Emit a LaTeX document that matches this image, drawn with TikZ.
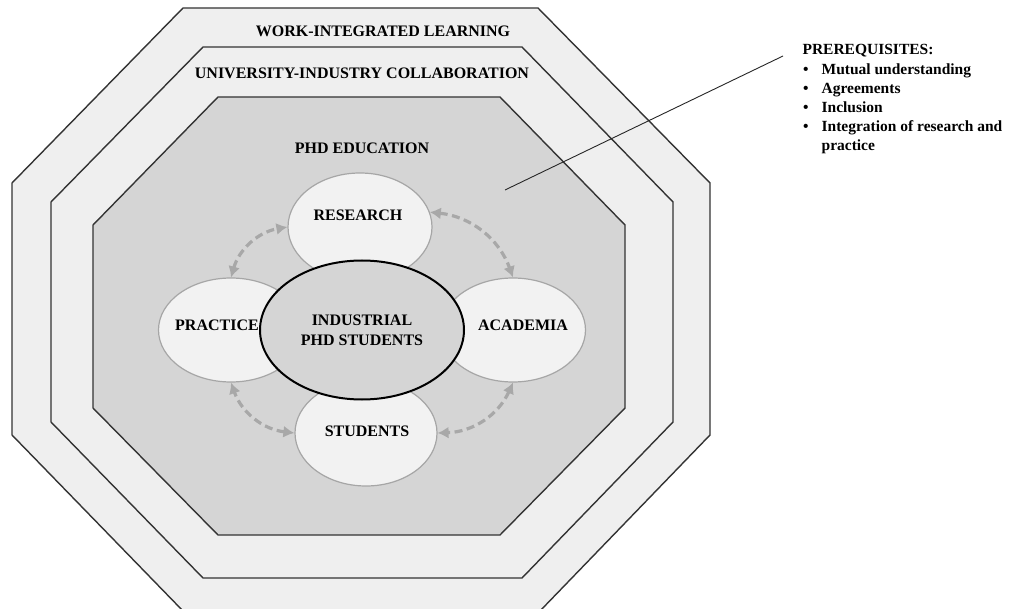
\documentclass[tikz,border=0pt]{standalone}
\usepackage{fontspec}
\setmainfont{Liberation Serif}
\usetikzlibrary{shapes.geometric,arrows.meta,positioning}

\definecolor{bandgray}{HTML}{EFEFEF}
\definecolor{coregray}{HTML}{D5D5D5}
\definecolor{petalgray}{HTML}{F2F2F2}
\definecolor{linkgray}{HTML}{A8A8A8}

\tikzset{
  every node/.style={font=\fontsize{16}{20}\selectfont\bfseries},
  band/.style={draw=black!80, line width=1.4pt},
  petal/.style={ellipse, draw=black!35, line width=1.2pt, fill=petalgray},
  core/.style={ellipse, draw=black, line width=2pt, fill=coregray, align=center},
  link/.style={draw=linkgray, dash pattern=on 8pt off 4.5pt, line width=3.2pt,
    {Latex[length=11pt,width=12pt]}-{Latex[length=11pt,width=12pt]}, bend left=32},
  listfont/.style={font=\fontsize{15.5}{19}\selectfont\bfseries}
}

\begin{document}
\begin{tikzpicture}[x=1pt, y=-1pt]
		\useasboundingbox (0,0) rectangle (1022,609);
		\fill[white] (0,0) rectangle (1022,609);
		% octagons, outside in
		\draw[band, fill=bandgray] (183,8) -- (538,8) -- (710,183) -- (710,435) -- (539,612) -- (184,612) -- (12,435) -- (12,183) -- cycle;
		\draw[band, fill=bandgray] (203,47) -- (522,47) -- (673,202) -- (673,422) -- (522,578) -- (203,578) -- (51,422) -- (51,202) -- cycle;
		\draw[band, fill=coregray] (218,97) -- (500,97) -- (625,225) -- (625,408) -- (500,535) -- (218,535) -- (93,408) -- (93,225) -- cycle;
		\node (wil) at (383,31) {WORK-INTEGRATED LEARNING};
		\node (uic) at (362,73) {UNIVERSITY-INDUSTRY COLLABORATION};
		\node (phd) at (362,148) {PHD EDUCATION};

		% the four around the middle
		\node[petal, minimum width=144pt, minimum height=108pt] (research) at (360,227) {};
		\node[petal, minimum width=145pt, minimum height=104pt] (practice) at (231,330) {};
		\node[petal, minimum width=145pt, minimum height=104pt] (academia) at (513,330) {};
		\node[petal, minimum width=142pt, minimum height=106pt] (students) at (366,433) {};
		\node (research-text) at (358,215) {RESEARCH};
		\node (practice-text) at (217,325) {PRACTICE};
		\node (academia-text) at (523,325) {ACADEMIA};
		\node (students-text) at (367,431) {STUDENTS};
		\node[core, minimum width=204pt, minimum height=139pt] (core) at (362,330) {INDUSTRIAL\\PHD STUDENTS};

		\draw[link] (practice.north) to (research.west);
		\draw[link] (research.12) to (academia.north);
		\draw[link] (academia.south) to (students.east);
		\draw[link] (students.west) to (practice.south);

		% prerequisites callout
		\node[listfont, anchor=west] (prereq) at (799,51) {PREREQUISITES:};
		\node[listfont, anchor=base west, inner sep=0pt] (prereq-list) at (803,75) {\begin{tabular}[t]{@{}l@{\hspace{13pt}}l@{}}
			\textbullet & Mutual understanding\\
			\textbullet & Agreements\\
			\textbullet & Inclusion\\
			\textbullet & Integration of research and\\
			            & practice
		\end{tabular}};
		\coordinate (callout) at (505,190);
		\coordinate (callout-end) at (783,56);
		\draw[black!85, line width=0.9pt] (callout) -- (callout-end);
\end{tikzpicture}
\end{document}
